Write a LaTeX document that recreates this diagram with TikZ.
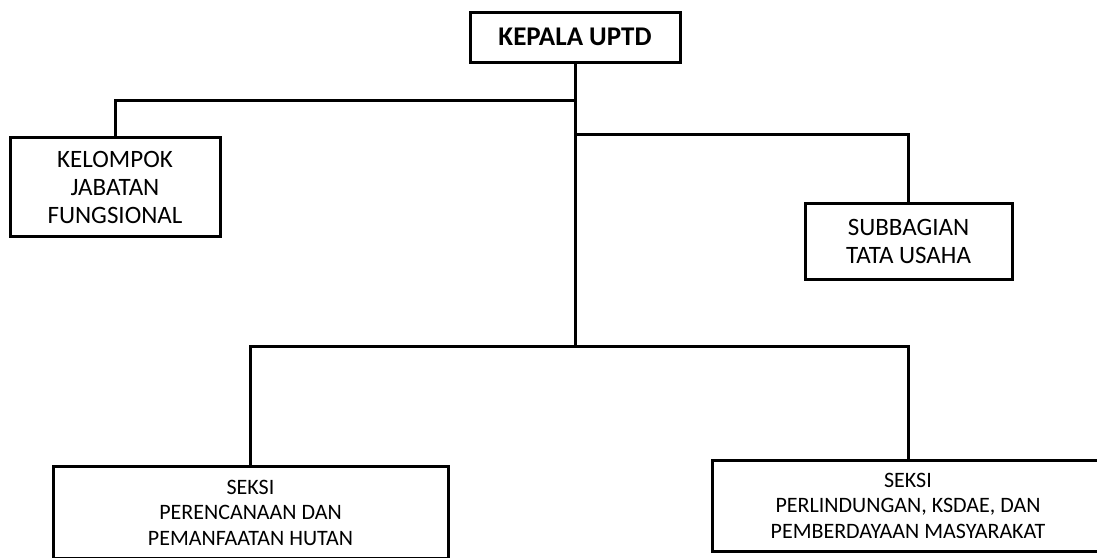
\documentclass[tikz,border=0pt]{standalone}
\usepackage{fontspec}
\setmainfont{Carlito}
\usepackage{tikz}
\usetikzlibrary{positioning}
\tikzstyle{unit} = [rectangle, draw=black, line width=3pt, fill=white, inner sep=0pt, text centered, align=center, font=\fontsize{25}{28}\selectfont]
\tikzstyle{head} = [unit, minimum width=210pt, minimum height=50pt, font=\fontsize{27}{28}\selectfont\bfseries]
\tikzstyle{seksi} = [unit, font=\fontsize{22}{25.5}\selectfont]
\tikzstyle{line} = [line width=3pt, draw=black]

\begin{document}
\begin{tikzpicture}[x=1pt, y=1pt, node distance=150pt]
	\useasboundingbox [fill=white] (0,0) rectangle (1097,-557);
	\node (kepala) [head] at (575,-37) {KEPALA UPTD};
	\node (kjf) [unit, below of=kepala, xshift=-460pt, minimum width=210pt, minimum height=99pt] {KELOMPOK\\JABATAN\\FUNGSIONAL};
	\node (tu) [unit, below of=kepala, xshift=333.5pt, yshift=-54pt, minimum width=207pt, minimum height=76pt] {SUBBAGIAN\\TATA USAHA};
	\node (seksiA) [seksi, below of=kjf, xshift=135.5pt, yshift=-175.5pt, minimum width=395pt, minimum height=92pt] {SEKSI\\PERENCANAAN DAN\\PEMANFAATAN HUTAN};
	\node (seksiB) [seksi, below of=tu, xshift=-0.5pt, yshift=-114.5pt, minimum width=392pt, minimum height=91pt] {SEKSI\\PERLINDUNGAN, KSDAE, DAN\\PEMBERDAYAAN MASYARAKAT};

	\draw [line] (kepala.south) -- ++(0,-37) -| (kjf.north);
	\draw [line] (kepala.south) -- ++(0,-71) -| (tu.north);
	\draw [line] (kepala.south) -- ++(0,-283) -| (seksiA.north);
	\draw [line] (kepala.south) -- ++(0,-283) -| (seksiB.north);
\end{tikzpicture}
\end{document}
